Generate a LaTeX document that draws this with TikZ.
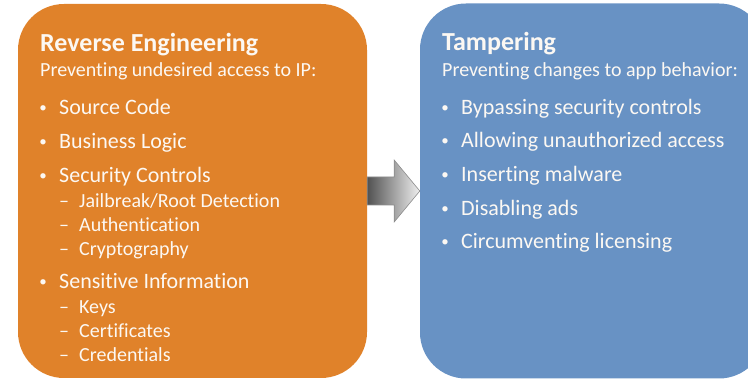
\documentclass[tikz,border=0pt]{standalone}
\usepackage{fontspec}
\setmainfont{Carlito}[Ligatures=NoCommon]
\usetikzlibrary{calc}
\definecolor{reorange}{RGB}{224,130,42}
\definecolor{tpblue}{RGB}{104,146,196}
\definecolor{txt}{RGB}{252,248,243}

\begin{document}
\begin{tikzpicture}[x=1pt,y=-1pt,
  panel/.style={rounded corners=46pt, inner sep=0pt},
  heading/.style={anchor=base west, inner sep=0pt, text=txt,
    font=\fontsize{26}{30}\selectfont\bfseries},
  lead/.style={anchor=base west, inner sep=0pt, text=txt,
    font=\fontsize{20}{24}\selectfont},
  item/.style={anchor=base west, inner sep=0pt, text=txt,
    font=\fontsize{22}{26}\selectfont},
  subitem/.style={anchor=base west, inner sep=0pt, text=txt,
    font=\fontsize{20}{24}\selectfont},
  bullet/.style={anchor=base, inner sep=0pt, text=txt,
    font=\fontsize{15}{18}\selectfont},
  dashmark/.style={anchor=base, inner sep=0pt, text=txt,
    font=\fontsize{20}{24}\selectfont},
  arrowbody/.style={left color=black!68, right color=black!6,
    draw=black!45, line width=0.6pt}]

\useasboundingbox (0,0) rectangle (748,379);

% the two panels
\node[panel, fill=reorange, minimum width=349pt, minimum height=374pt]
  (re) at (192.5,191) {};
\node[panel, fill=tpblue, minimum width=345pt, minimum height=375pt]
  (tp) at (592.5,191) {};

% block arrow from the left panel to the right panel
\path[arrowbody]
  ($(re.east)+(0,-14)$) -- ($(re.east)+(27,-14)$) -- ($(re.east)+(27,-31)$)
  -- (tp.west) -- ($(re.east)+(27,31)$) -- ($(re.east)+(27,14)$)
  -- ($(re.east)+(0,14)$) -- cycle;

% left panel: reverse engineering
\node[heading] (reT) at (40,52) {Reverse Engineering};
\node[lead] (reS) at (40,77) {Preventing undesired access to IP:};

\foreach \y/\t [count=\i] in {115/Source Code, 149/Business Logic,
    183/Security Controls, 289/Sensitive Information} {
  \node[bullet] (reB\i) at (43,\y-2) {•};
  \node[item] (reI\i) at (59,\y) {\t};
}
\foreach \y/\t [count=\i] in {208/{Jailbreak/Root Detection},
    232/Authentication, 256/Cryptography, 314/Keys,
    338/Certificates, 362/Credentials} {
  \node[dashmark] (reD\i) at (64,\y) {–};
  \node[subitem] (reU\i) at (79,\y) {\t};
}

% right panel: tampering
\node[heading] (tpT) at (442,51) {Tampering};
\node[lead] (tpS) at (442,77) {Preventing changes to app behavior:};

\foreach \y/\t [count=\i] in {115/Bypassing security controls,
    148/Allowing unauthorized access, 182/Inserting malware,
    216/Disabling ads, 249/Circumventing licensing} {
  \node[bullet] (tpB\i) at (445,\y-2) {•};
  \node[item] (tpI\i) at (461,\y) {\t};
}
\end{tikzpicture}
\end{document}
